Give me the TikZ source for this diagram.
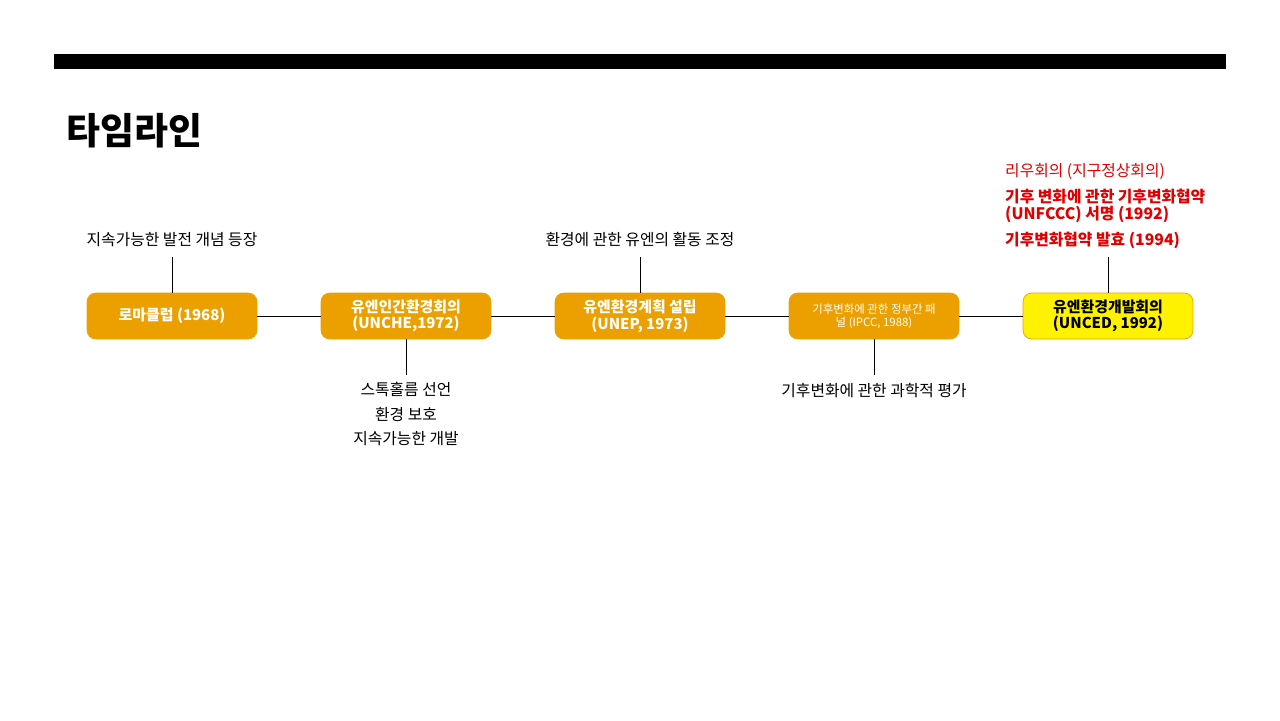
\documentclass[tikz,border=0pt]{standalone}
\usepackage{fontspec}
\setmainfont{Noto Sans CJK KR}
\definecolor{evtorange}{HTML}{EBA000}
\definecolor{evtred}{HTML}{E00000}
\begin{document}
\begin{tikzpicture}[x=0.02cm,y=-0.02cm,
  evt/.style={rectangle,rounded corners=5pt,fill=evtorange,draw=evtorange,
    minimum width=3.4cm,minimum height=0.92cm,align=center,text=white,
    font=\fontsize{8.5}{9.5}\selectfont\bfseries},
  note/.style={align=center,font=\fontsize{9}{14}\selectfont}]
\useasboundingbox (0,0) rectangle (1280,720);
\fill (54,54) rectangle (1226,69);
\node[anchor=west,font=\fontsize{21}{24}\selectfont\bfseries] (title) at (60,131) {타임라인};

\path (172,316) node[evt] (club) {로마클럽 (1968)};
\path (406,316) node[evt] (unche) {유엔인간환경회의\\(UNCHE,1972)};
\path (640,316) node[evt] (unep) {유엔환경계획 설립\\(UNEP, 1973)};
\path (874,316) node[evt,font=\fontsize{6.5}{7.5}\selectfont] (ipcc) {기후변화에 관한 정부간 패\\널 (IPCC, 1988)};
\path (1108,316) node[evt,fill=yellow,text=black] (unced) {유엔환경개발회의\\(UNCED, 1992)};
\draw (club) -- (unche);
\draw (unche) -- (unep);
\draw (unep) -- (ipcc);
\draw (ipcc) -- (unced);

\path (172,240) node[note] (n1) {지속가능한 발전 개념 등장};
\coordinate (c1) at (172,257);
\draw (c1) -- (club);
\path (406,414) node[note] (n2) {스톡홀름 선언\\환경 보호\\지속가능한 개발};
\coordinate (c2) at (406,375);
\draw (unche) -- (c2);
\path (640,240) node[note] (n3) {환경에 관한 유엔의 활동 조정};
\coordinate (c3) at (640,257);
\draw (c3) -- (unep);
\path (874,391) node[note] (n4) {기후변화에 관한 과학적 평가};
\coordinate (c4) at (874,375);
\draw (ipcc) -- (c4);

\path (999,172) node[anchor=west,text=evtred,font=\fontsize{9}{11}\selectfont] (r1) {리우회의 (지구정상회의)};
\path (999,206) node[anchor=west,align=left,text=evtred,font=\fontsize{9}{10}\selectfont\bfseries] (r2) {기후 변화에 관한 기후변화협약\\(UNFCCC) 서명 (1992)};
\path (999,240) node[anchor=west,text=evtred,font=\fontsize{9}{11}\selectfont\bfseries] (r3) {기후변화협약 발효 (1994)};
\coordinate (c5) at (1108,257);
\draw (c5) -- (unced);
\end{tikzpicture}
\end{document}
